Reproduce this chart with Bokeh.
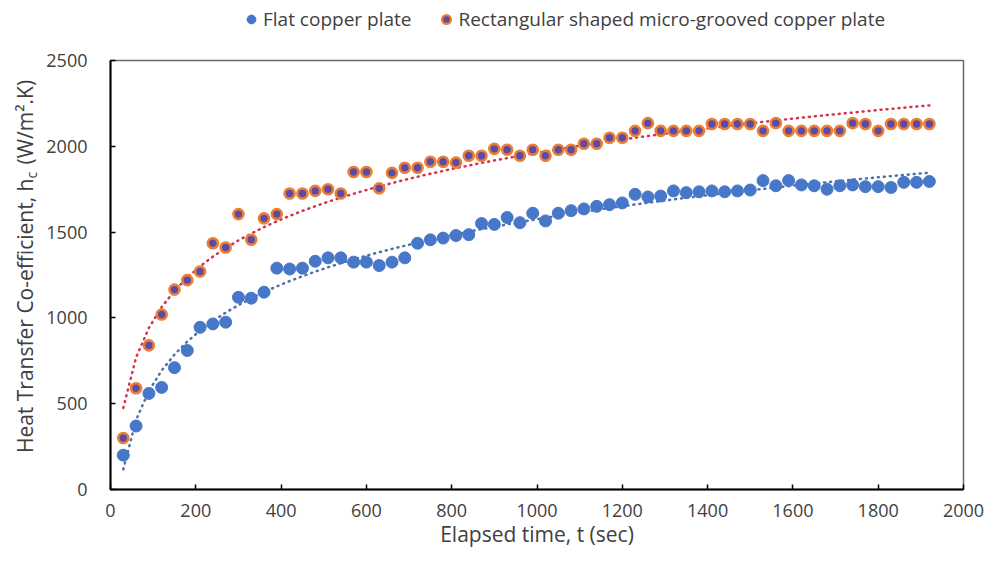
import numpy as np
from bokeh.plotting import figure
from bokeh.layouts import row, column
from bokeh.models import Range1d, FixedTicker, Legend, LegendItem, Label, ColumnDataSource
from bokeh.embed import file_html
from bokeh.resources import INLINE

# ---- data ----
time_s = [30, 60, 90, 120, 150, 180, 210, 240, 270, 300, 330, 360, 390, 420, 450, 480,
          510, 540, 570, 600, 630, 660, 690, 720, 750, 780, 810, 840, 870, 900, 930, 960,
          990, 1020, 1050, 1080, 1110, 1140, 1170, 1200, 1230, 1260, 1290, 1320, 1350, 1380, 1410, 1440,
          1470, 1500, 1530, 1560, 1590, 1620, 1650, 1680, 1710, 1740, 1770, 1800, 1830, 1860, 1890, 1920]

flat_hc = [200, 370, 560, 595, 710, 810, 945, 965, 975, 1120, 1115, 1150, 1290, 1285, 1290, 1330,
           1350, 1350, 1325, 1325, 1305, 1325, 1350, 1435, 1455, 1465, 1480, 1485, 1550, 1545, 1585, 1555,
           1610, 1565, 1610, 1625, 1635, 1650, 1660, 1670, 1720, 1705, 1710, 1740, 1730, 1735, 1740, 1735,
           1740, 1745, 1800, 1770, 1800, 1775, 1770, 1750, 1770, 1775, 1765, 1765, 1760, 1790, 1790, 1795]

groove_hc = [300, 590, 840, 1020, 1165, 1220, 1270, 1435, 1410, 1605, 1455, 1580, 1605, 1725, 1725, 1740,
             1750, 1725, 1850, 1850, 1755, 1845, 1875, 1875, 1910, 1910, 1905, 1945, 1945, 1985, 1980, 1945,
             1980, 1945, 1980, 1980, 2015, 2015, 2050, 2050, 2090, 2135, 2090, 2090, 2090, 2090, 2130, 2130,
             2130, 2130, 2090, 2135, 2090, 2090, 2090, 2090, 2090, 2135, 2130, 2090, 2130, 2130, 2130, 2130]

x_ticks = [0, 200, 400, 600, 800, 1000, 1200, 1400, 1600, 1800, 2000]
y_ticks = [0, 500, 1000, 1500, 2000, 2500]

series_names = ["Flat copper plate", "Rectangular shaped micro-grooved copper plate"]
x_title = "Elapsed time, t (sec)"
y_title_parts = ["Heat Transfer Co-efficient, h", "c", "(W/m\u00b2.K)"]

# logarithmic trendlines fitted to the data (as in the original spreadsheet chart)
t_arr = np.array(time_s, dtype=float)
a1, b1 = np.polyfit(np.log(t_arr), np.array(flat_hc, dtype=float), 1)
a2, b2 = np.polyfit(np.log(t_arr), np.array(groove_hc, dtype=float), 1)
flat_fit = a1 * np.log(t_arr) + b1
groove_fit = a2 * np.log(t_arr) + b2

src = ColumnDataSource(dict(t=time_s, flat=flat_hc, groove=groove_hc,
                            flat_fit=flat_fit, groove_fit=groove_fit))

FONT = "Open Sans"
TXT = "#404040"
H = 551
W = 984
YLAB_W = 40
TOP_H = 44
MAIN_W = W - YLAB_W

BLUE = "#4677c8"
ORANGE_LINE = "#ED7D31"
ORANGE_FILL = "#5b4aa6"

# ---------------- main chart ----------------
p = figure(width=MAIN_W, height=H - TOP_H, x_range=Range1d(0, 2000), y_range=Range1d(0, 2500),
           output_backend="svg", toolbar_location=None,
           min_border_left=110 - YLAB_W, min_border_right=21, min_border_top=16, min_border_bottom=62)
p.xgrid.visible = False
p.ygrid.visible = False
p.outline_line_color = "#6a6a6a"
p.outline_line_width = 1.5
p.background_fill_color = "white"
p.border_fill_color = "white"

for ax, ticks in ((p.xaxis, x_ticks), (p.yaxis, y_ticks)):
    ax.ticker = FixedTicker(ticks=ticks)
    ax.minor_tick_line_color = None
    ax.major_tick_in = 5
    ax.major_tick_out = 0
    ax.major_tick_line_color = "black"
    ax.major_tick_line_width = 1.5
    ax.axis_line_color = "black"
    ax.axis_line_width = 2
    ax.major_label_text_font = FONT
    ax.major_label_text_font_size = "18px"
    ax.major_label_text_color = TXT
p.yaxis.major_label_standoff = 23
p.xaxis.major_label_standoff = 14
p.xaxis.axis_label = x_title
p.xaxis.axis_label_text_font = FONT
p.xaxis.axis_label_text_font_size = "21px"
p.xaxis.axis_label_text_font_style = "normal"
p.xaxis.axis_label_text_color = TXT
p.xaxis.axis_label_standoff = 0

# trendlines
p.line("t", "flat_fit", source=src, line_color="#4f6fa8", line_width=2.5,
       line_dash="1 5", line_cap="round")
p.line("t", "groove_fit", source=src, line_color="#d6334a", line_width=2.5,
       line_dash="1 5", line_cap="round")

# markers
p.scatter("t", "flat", source=src, size=12, fill_color=BLUE, line_color=BLUE, line_width=1)
p.scatter("t", "groove", source=src, size=10, fill_color=ORANGE_FILL,
          line_color=ORANGE_LINE, line_width=2.6)

# ---------------- legend strip (above the chart) ----------------
top = figure(width=MAIN_W, height=TOP_H, x_range=Range1d(0, 1), y_range=Range1d(0, 1),
             output_backend="svg", toolbar_location=None, x_axis_type=None, y_axis_type=None,
             min_border_left=0, min_border_right=0, min_border_top=0, min_border_bottom=0)
top.outline_line_color = None
top.xgrid.visible = False
top.ygrid.visible = False
top.background_fill_color = "white"
top.border_fill_color = "white"
nodata = ColumnDataSource(dict(x=[np.nan], y=[np.nan]))
lg_flat = top.scatter("x", "y", source=nodata, size=12, fill_color=BLUE, line_color=BLUE)
lg_groove = top.scatter("x", "y", source=nodata, size=10, fill_color=ORANGE_FILL,
                        line_color=ORANGE_LINE, line_width=2.2)
legend = Legend(items=[LegendItem(label=series_names[0], renderers=[lg_flat]),
                       LegendItem(label=series_names[1], renderers=[lg_groove])],
                orientation="horizontal", location=(130, 12),
                padding=0, margin=0, spacing=24, glyph_width=22, glyph_height=22,
                label_standoff=1, border_line_color=None, background_fill_alpha=0,
                label_text_font=FONT, label_text_font_size="19px", label_text_color=TXT)
top.add_layout(legend, "center")

# ---------------- narrow strip holding the rotated y-axis title ----------------
ylab = figure(width=YLAB_W, height=H, x_range=Range1d(0, YLAB_W), y_range=Range1d(0, H),
              output_backend="svg", toolbar_location=None, x_axis_type=None, y_axis_type=None,
              min_border_left=0, min_border_right=0, min_border_top=0, min_border_bottom=0)
ylab.outline_line_color = None
ylab.xgrid.visible = False
ylab.ygrid.visible = False
ylab.background_fill_color = "white"
ylab.border_fill_color = "white"

ang = np.pi / 2
brk = 373
ylab.add_layout(Label(x=24, y=brk, angle=ang, text=y_title_parts[0], text_align="right",
                      text_baseline="middle", text_font=FONT, text_font_size="21px", text_color=TXT))
ylab.add_layout(Label(x=31, y=brk, angle=ang, text=y_title_parts[1], text_align="left",
                      text_baseline="middle", text_font=FONT, text_font_size="14px", text_color=TXT))
ylab.add_layout(Label(x=24, y=brk + 14, angle=ang, text=y_title_parts[2], text_align="left",
                      text_baseline="middle", text_font=FONT, text_font_size="21px", text_color=TXT))

layout = row(ylab, column(top, p))
open("out.html", "w").write(file_html(layout, INLINE))
